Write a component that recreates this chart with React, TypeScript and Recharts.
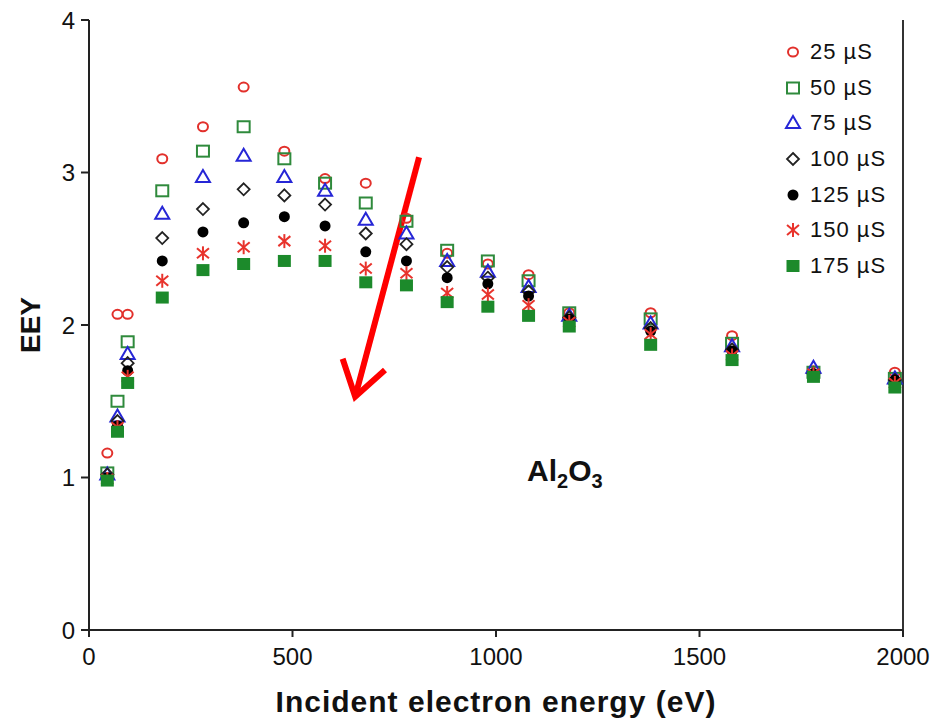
import React from "react";
import {
  Legend,
  ReferenceLine,
  Scatter,
  ScatterChart,
  XAxis,
  YAxis,
} from "recharts";

// incident energies (eV) shared by every series
const energies = [45, 70, 95, 180, 280, 380, 480, 580, 680, 780, 880, 980, 1080, 1180, 1380, 1580, 1780, 1980];

const eey25 = [1.16, 2.07, 2.07, 3.09, 3.3, 3.56, 3.14, 2.96, 2.93, 2.7, 2.47, 2.4, 2.33, 2.08, 2.08, 1.93, 1.7, 1.69];
const eey50 = [1.03, 1.5, 1.89, 2.88, 3.14, 3.3, 3.09, 2.93, 2.8, 2.68, 2.49, 2.42, 2.29, 2.08, 2.04, 1.88, 1.69, 1.65];
const eey75 = [1.02, 1.4, 1.81, 2.73, 2.97, 3.11, 2.97, 2.88, 2.69, 2.6, 2.42, 2.35, 2.25, 2.06, 2.01, 1.86, 1.72, 1.65];
const eey100 = [1.02, 1.37, 1.75, 2.57, 2.76, 2.89, 2.85, 2.79, 2.6, 2.53, 2.38, 2.31, 2.22, 2.05, 1.98, 1.84, 1.68, 1.64];
const eey125 = [1.0, 1.34, 1.7, 2.42, 2.61, 2.67, 2.71, 2.65, 2.48, 2.42, 2.31, 2.27, 2.19, 2.04, 1.96, 1.83, 1.68, 1.64];
const eey150 = [0.99, 1.33, 1.66, 2.29, 2.47, 2.51, 2.55, 2.52, 2.37, 2.34, 2.21, 2.2, 2.13, 2.02, 1.94, 1.8, 1.68, 1.62];
const eey175 = [0.98, 1.3, 1.62, 2.18, 2.36, 2.4, 2.42, 2.42, 2.28, 2.26, 2.15, 2.12, 2.06, 1.99, 1.87, 1.77, 1.66, 1.59];

const xTicks = [0, 500, 1000, 1500, 2000];
const yTicks = [0, 1, 2, 3, 4];

// arrow annotation, in data units (tail -> head)
const arrowTail = { x: 811, y: 3.1 };
const arrowHead = { x: 654, y: 1.53 };

const series = [
  { name: "25 µS", values: eey25, kind: "circle", color: "#e2302b" },
  { name: "50 µS", values: eey50, kind: "square", color: "#2f8a3c" },
  { name: "75 µS", values: eey75, kind: "triangle", color: "#2626d6" },
  { name: "100 µS", values: eey100, kind: "diamond", color: "#222222" },
  { name: "125 µS", values: eey125, kind: "dot", color: "#000000" },
  { name: "150 µS", values: eey150, kind: "star", color: "#e8332c" },
  { name: "175 µS", values: eey175, kind: "filled", color: "#1c8a2b" },
];

const FONT = '"Liberation Sans", Arial, sans-serif';

const Marker = ({ kind, cx, cy, color }: any) => {
  if (cx == null || cy == null) return null;
  switch (kind) {
    case "circle":
      return <ellipse cx={cx} cy={cy} rx={5} ry={4.5} fill="none" stroke={color} strokeWidth={2} />;
    case "square":
      return <rect x={cx - 6} y={cy - 5.5} width={12} height={11} fill="none" stroke={color} strokeWidth={2} />;
    case "triangle":
      return (
        <path
          d={`M${cx},${cy - 7} L${cx + 7},${cy + 5} L${cx - 7},${cy + 5} Z`}
          fill="none"
          stroke={color}
          strokeWidth={2}
        />
      );
    case "diamond":
      return (
        <path
          d={`M${cx},${cy - 6} L${cx + 6},${cy} L${cx},${cy + 6} L${cx - 6},${cy} Z`}
          fill="none"
          stroke={color}
          strokeWidth={1.8}
        />
      );
    case "dot":
      return <circle cx={cx} cy={cy} r={5.5} fill={color} />;
    case "star":
      return (
        <g stroke={color} strokeWidth={2}>
          <line x1={cx} y1={cy - 7} x2={cx} y2={cy + 7} />
          <line x1={cx - 6} y1={cy - 5} x2={cx + 6} y2={cy + 5} />
          <line x1={cx - 6} y1={cy + 5} x2={cx + 6} y2={cy - 5} />
        </g>
      );
    case "filled":
      return <rect x={cx - 6.5} y={cy - 6} width={13} height={12} fill={color} />;
  }
  return null;
};

const Arrow = (props: any) => {
  const { x1, y1, x2, y2 } = props;
  const ang = Math.atan2(y1 - y2, x1 - x2);
  const len = 40;
  const spread = 0.58;
  const w1 = `${x2 + len * Math.cos(ang + spread)},${y2 + len * Math.sin(ang + spread)}`;
  const w2 = `${x2 + len * Math.cos(ang - spread)},${y2 + len * Math.sin(ang - spread)}`;
  return (
    <g stroke="#ff0000" strokeWidth={6} fill="none">
      <line x1={x1} y1={y1} x2={x2} y2={y2} />
      <polyline points={`${w1} ${x2},${y2} ${w2}`} strokeLinejoin="miter" />
    </g>
  );
};

const XLabel = ({ viewBox }: any) => (
  <text
    x={viewBox.x + viewBox.width / 2}
    y={viewBox.y + 82}
    textAnchor="middle"
    fontFamily={FONT}
    fontWeight="bold"
    fontSize={30}
    letterSpacing={1}
    fill="#111"
  >
    Incident electron energy (eV)
  </text>
);

const YLabel = ({ viewBox }: any) => {
  const cx = viewBox.x + 30;
  const cy = viewBox.y + viewBox.height / 2;
  return (
    <text
      x={cx}
      y={cy}
      transform={`rotate(-90, ${cx}, ${cy})`}
      textAnchor="middle"
      dominantBaseline="central"
      fontFamily={FONT}
      fontWeight="bold"
      fontSize={28}
      fill="#111"
    >
      EEY
    </text>
  );
};

const renderLegend = () => (
  <div style={{ display: "flex", flexDirection: "column", fontFamily: FONT }}>
    {series.map((s) => (
      <div key={s.name} style={{ height: 35.7, display: "flex", alignItems: "center" }}>
        <svg width={22} height={20}>
          <Marker kind={s.kind} cx={11} cy={10} color={s.color} />
        </svg>
        <span style={{ marginLeft: 6, fontSize: 22, letterSpacing: 1, color: "#111" }}>{s.name}</span>
      </div>
    ))}
  </div>
);

export default function App() {
  return (
    <div style={{ position: "absolute", left: 0, top: 0, width: 935, height: 723, background: "#fff" }}>
      <ScatterChart width={935} height={723} margin={{ top: 20, right: 32, bottom: 0, left: 0 }}>
        <XAxis
          type="number"
          dataKey="x"
          domain={[0, 2000]}
          ticks={xTicks}
          height={93}
          stroke="#222"
          strokeWidth={2}
          tickSize={7}
          tickMargin={11}
          tick={{ fontSize: 24, fill: "#111", fontFamily: FONT }}
          label={{ content: XLabel }}
        />
        <YAxis
          type="number"
          dataKey="y"
          domain={[0, 4]}
          ticks={yTicks}
          width={89}
          stroke="#222"
          strokeWidth={2}
          tickSize={8}
          tickMargin={6}
          tick={{ fontSize: 24, fill: "#111", fontFamily: FONT }}
          label={{ content: YLabel }}
        />
        <ReferenceLine x={2000} stroke="#333" strokeWidth={2} />
        {series.map((s) => (
          <Scatter
            key={s.name}
            name={s.name}
            data={energies.map((e, i) => ({ x: e, y: s.values[i] }))}
            fill={s.color}
            isAnimationActive={false}
            shape={(p: any) => <Marker kind={s.kind} cx={p.cx} cy={p.cy} color={s.color} />}
          />
        ))}
        <ReferenceLine
          segment={[arrowTail, arrowHead]}
          stroke="#ff0000"
          strokeWidth={6}
          shape={Arrow}
        />
        <Legend
          layout="horizontal"
          verticalAlign="middle"
          align="center"
          content={renderLegend}
          wrapperStyle={{ left: 782, top: 34, width: 150 }}
        />
      </ScatterChart>
      <div
        style={{
          position: "absolute",
          left: 527,
          top: 456,
          fontFamily: FONT,
          fontWeight: "bold",
          fontSize: 30,
          lineHeight: 1,
          color: "#111",
        }}
      >
        Al<sub style={{ fontSize: 20 }}>2</sub>O<sub style={{ fontSize: 20 }}>3</sub>
      </div>
    </div>
  );
}
